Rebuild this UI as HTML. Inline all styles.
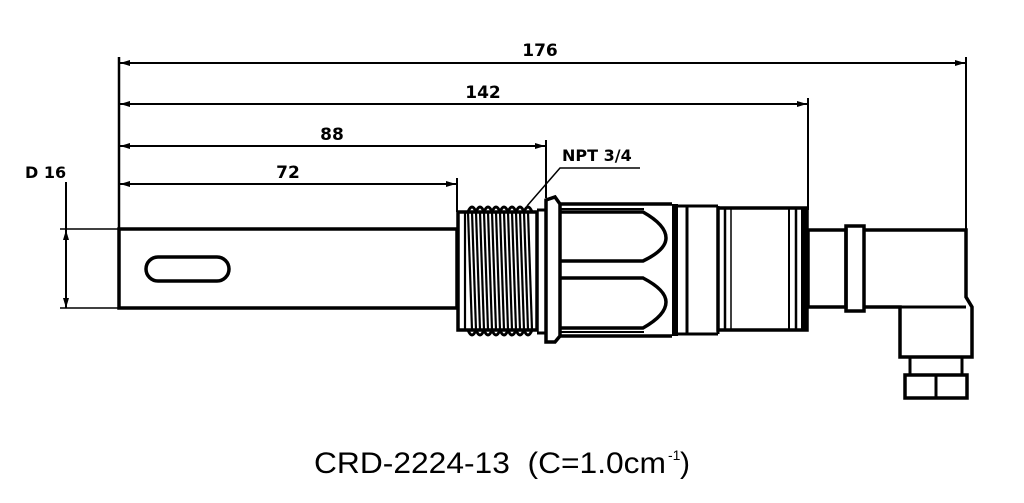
<!DOCTYPE html>
<html><head><meta charset="utf-8"><style>
html,body{margin:0;padding:0;background:#fff;}
svg{display:block;}
text{font-family:"DejaVu Sans","Liberation Sans",sans-serif;font-weight:bold;fill:#000;}
</style></head><body>
<svg width="1024" height="503" viewBox="0 0 1024 503" xmlns="http://www.w3.org/2000/svg">
<defs>
<marker id="a" viewBox="0 0 10 6" refX="10" refY="3" markerWidth="14" markerHeight="6" markerUnits="userSpaceOnUse" orient="auto-start-reverse"><path d="M0,0 L10,3 L0,6 Z" fill="#000"/></marker>
</defs>
<g stroke="#000" fill="none">
<line x1="119" y1="57" x2="119" y2="229" stroke-width="2.5"/>
<line x1="966" y1="57" x2="966" y2="230" stroke-width="2"/>
<line x1="808" y1="98" x2="808" y2="210" stroke-width="2"/>
<line x1="546" y1="140" x2="546" y2="198" stroke-width="2"/>
<line x1="457" y1="178" x2="457" y2="212" stroke-width="2"/>
<g stroke-width="2" marker-start="url(#a)" marker-end="url(#a)">
<line x1="120" y1="63" x2="965" y2="63"/>
<line x1="120" y1="104" x2="807" y2="104"/>
<line x1="120" y1="146" x2="545" y2="146"/>
<line x1="120" y1="184" x2="456" y2="184"/>
<line x1="66" y1="230" x2="66" y2="308"/>
</g>
<line x1="66" y1="182" x2="66" y2="230" stroke-width="2"/>
<line x1="60" y1="229" x2="119" y2="229" stroke-width="1.5"/>
<line x1="60" y1="308" x2="119" y2="308" stroke-width="1.5"/>
<polyline points="527,206 560,168 640,168" stroke-width="1.5"/>

<rect x="119" y="229" width="338" height="79" stroke-width="3.5"/>
<rect x="146" y="257" width="83" height="24" rx="12" stroke-width="3.5"/>

<rect x="458" y="212" width="79" height="118" stroke-width="3.5"/>
<path d="M468,212 Q472,202 476,212 Q480,202 484,212 Q488,202 492,212 Q496,202 500,212 Q504,202 508,212 Q512,202 516,212 Q520,202 524,212 Q528,202 532,212" stroke-width="3"/>
<path d="M468,330 Q472,340 476,330 Q480,340 484,330 Q488,340 492,330 Q496,340 500,330 Q504,340 508,330 Q512,340 516,330 Q520,340 524,330 Q528,340 532,330" stroke-width="3"/>
<g stroke-width="2.2">
<line x1="468" y1="212" x2="472" y2="330"/><line x1="472" y1="212" x2="476" y2="330"/>
<line x1="476" y1="212" x2="480" y2="330"/><line x1="480" y1="212" x2="484" y2="330"/>
<line x1="484" y1="212" x2="488" y2="330"/><line x1="488" y1="212" x2="492" y2="330"/>
<line x1="492" y1="212" x2="496" y2="330"/><line x1="496" y1="212" x2="500" y2="330"/>
<line x1="500" y1="212" x2="504" y2="330"/><line x1="504" y1="212" x2="508" y2="330"/>
<line x1="508" y1="212" x2="512" y2="330"/><line x1="512" y1="212" x2="516" y2="330"/>
<line x1="516" y1="212" x2="520" y2="330"/><line x1="520" y1="212" x2="524" y2="330"/>
<line x1="524" y1="212" x2="528" y2="330"/><line x1="528" y1="212" x2="532" y2="330"/>
<line x1="465" y1="212" x2="465" y2="330"/>
</g>
<line x1="537" y1="210" x2="546" y2="210" stroke-width="3"/>
<line x1="537" y1="333" x2="546" y2="333" stroke-width="3"/>
<path d="M546,200 L555,197 L560,204 L560,336 L555,342 L546,342 Z" stroke-width="3.5"/>
<path d="M560,204 L672,204 M560,336 L672,336" stroke-width="3.5"/>
<line x1="560" y1="209" x2="644" y2="209" stroke-width="2"/>
<line x1="560" y1="332" x2="644" y2="332" stroke-width="2"/>
<path d="M560,212 L643,212 Q666,225 666,238 Q666,250 643,261 L560,261" stroke-width="3.5"/>
<path d="M560,278 L643,278 Q666,290 666,302 Q666,315 643,328 L560,328" stroke-width="3.5"/>
<line x1="560" y1="212" x2="560" y2="328" stroke-width="3"/>
<rect x="672" y="204" width="6" height="132" fill="#000" stroke="none"/>
<line x1="687" y1="206" x2="687" y2="334" stroke-width="3"/>
<line x1="678" y1="206" x2="718" y2="206" stroke-width="3"/>
<line x1="678" y1="334" x2="718" y2="334" stroke-width="3"/>
<line x1="718" y1="206" x2="718" y2="334" stroke-width="3"/>
<rect x="718" y="208" width="89" height="122" stroke-width="3.5"/>
<line x1="725" y1="208" x2="725" y2="330" stroke-width="2.5"/>
<line x1="731" y1="208" x2="731" y2="330" stroke-width="1.5"/>
<line x1="789" y1="208" x2="789" y2="330" stroke-width="2"/>
<line x1="796" y1="208" x2="796" y2="330" stroke-width="2.5"/>
<rect x="801" y="208" width="6" height="122" fill="#000" stroke="none"/>
<rect x="808" y="230" width="38" height="77" stroke-width="3.5"/>
<rect x="846" y="226" width="18" height="85" stroke-width="3.5"/>
<path d="M864,230 L966,230 L966,297 L972,307 L972,357 L900,357 L900,307 L864,307" stroke-width="3.5"/>
<line x1="900" y1="307" x2="966" y2="307" stroke-width="3"/>
<rect x="910" y="357" width="52" height="18" stroke-width="3"/>
<rect x="905" y="375" width="62" height="23" stroke-width="3.5"/>
<line x1="936" y1="375" x2="936" y2="398" stroke-width="3"/>
</g>
<g font-size="17" text-anchor="middle">
<text x="540" y="56">176</text>
<text x="483" y="98">142</text>
<text x="332" y="140">88</text>
<text x="288" y="178">72</text>
</g>
<text x="25" y="178" font-size="16">D 16</text>
<text x="562" y="161" font-size="16">NPT 3/4</text>
<text x="314" y="473" font-size="30" style="font-family:'Liberation Sans',sans-serif;font-weight:normal" textLength="352" lengthAdjust="spacingAndGlyphs" xml:space="preserve">CRD-2224-13  (C=1.0cm</text>
<text x="668" y="460" font-size="14" style="font-family:'Liberation Sans',sans-serif;font-weight:normal">-1</text>
<text x="680" y="473" font-size="30" style="font-family:'Liberation Sans',sans-serif;font-weight:normal">)</text>
</svg>
</body></html>
